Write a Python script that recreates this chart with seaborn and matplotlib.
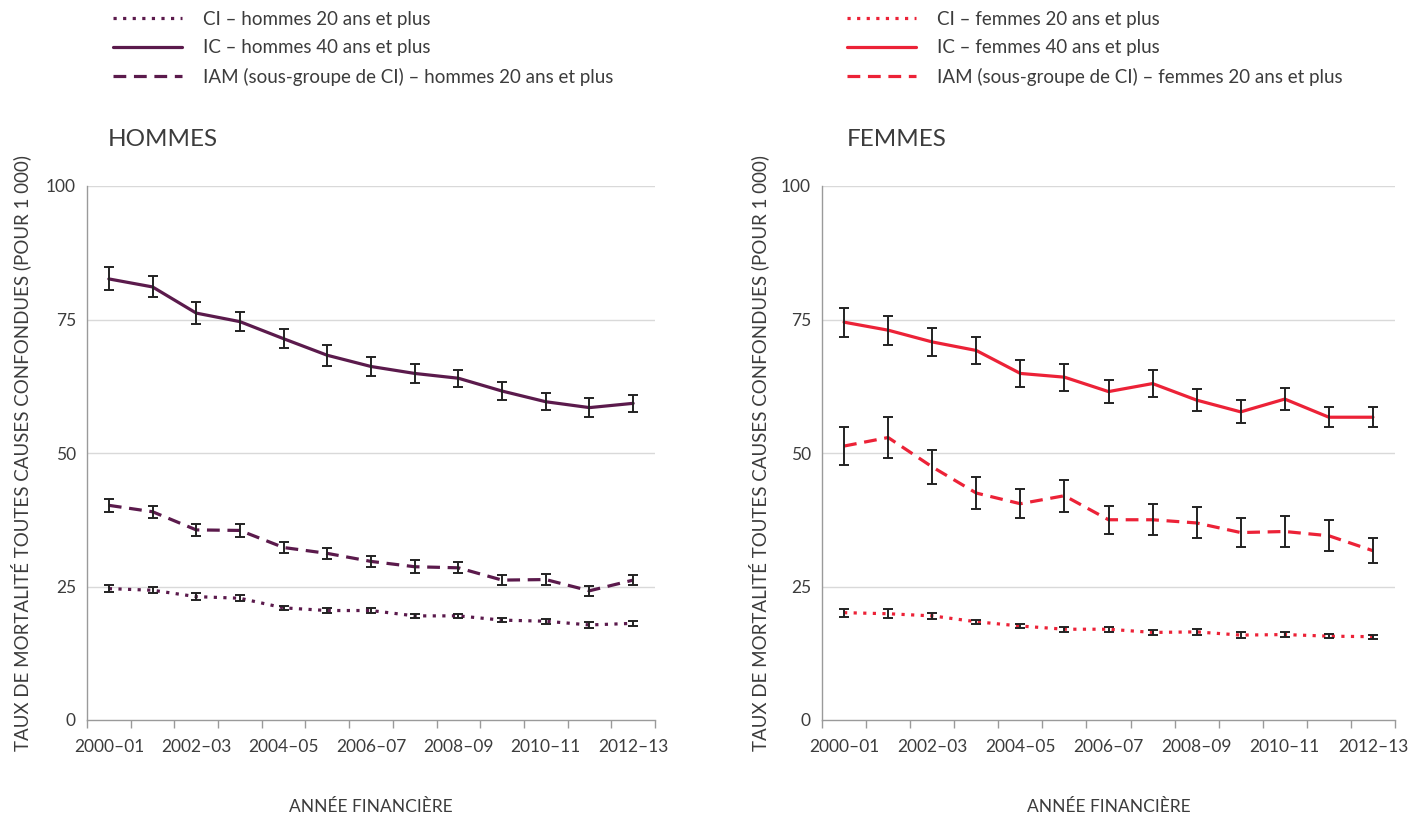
import numpy as np
import pandas as pd
import matplotlib
matplotlib.use("Agg")
import matplotlib.pyplot as plt
from matplotlib.lines import Line2D
import seaborn as sns

# Fiscal years (x categories) and labelled ticks
years = ["2000–01", "2001–02", "2002–03", "2003–04", "2004–05", "2005–06", "2006–07",
         "2007–08", "2008–09", "2009–10", "2010–11", "2011–12", "2012–13"]
tick_labels = ["2000–01", "2002–03", "2004–05", "2006–07", "2008–09", "2010–11", "2012–13"]

# Men: all-cause mortality rates (per 1,000) and 95% CI half-widths
men_ci = [24.6, 24.3, 23.1, 22.8, 21.0, 20.5, 20.5, 19.5, 19.5, 18.7, 18.5, 17.8, 18.1]
men_ci_err = [0.6, 0.6, 0.6, 0.6, 0.4, 0.5, 0.5, 0.4, 0.4, 0.4, 0.5, 0.5, 0.5]
men_ic = [82.6, 81.1, 76.2, 74.6, 71.4, 68.3, 66.2, 64.9, 64.0, 61.6, 59.6, 58.5, 59.3]
men_ic_err = [2.15, 1.97, 2.1, 1.8, 1.75, 1.93, 1.75, 1.78, 1.56, 1.72, 1.56, 1.78, 1.56]
men_iam = [40.2, 39.0, 35.6, 35.5, 32.3, 31.2, 29.7, 28.7, 28.5, 26.2, 26.3, 24.2, 26.2]
men_iam_err = [1.2, 1.1, 1.15, 1.15, 1.0, 1.05, 1.0, 1.25, 1.0, 1.0, 1.0, 0.9, 1.0]

# Women: all-cause mortality rates (per 1,000) and 95% CI half-widths
women_ci = [20.1, 19.9, 19.5, 18.4, 17.6, 17.0, 17.0, 16.4, 16.5, 15.9, 16.0, 15.7, 15.6]
women_ci_err = [0.75, 0.8, 0.6, 0.4, 0.4, 0.5, 0.5, 0.4, 0.5, 0.5, 0.4, 0.4, 0.4]
women_ic = [74.5, 73.0, 70.8, 69.2, 64.9, 64.2, 61.5, 63.0, 59.9, 57.7, 60.1, 56.7, 56.7]
women_ic_err = [2.7, 2.7, 2.7, 2.5, 2.5, 2.5, 2.1, 2.5, 2.1, 2.15, 2.1, 1.9, 1.9]
women_iam = [51.3, 52.9, 47.4, 42.5, 40.5, 42.0, 37.5, 37.5, 36.9, 35.1, 35.3, 34.5, 31.7]
women_iam_err = [3.6, 3.9, 3.25, 3.0, 2.7, 3.0, 2.65, 2.9, 2.9, 2.7, 2.9, 2.9, 2.3]

series_keys = ["CI", "IC", "IAM"]
men_labels = ["CI – hommes 20 ans et plus", "IC – hommes 40 ans et plus",
              "IAM (sous-groupe de CI) – hommes 20 ans et plus"]
women_labels = ["CI – femmes 20 ans et plus", "IC – femmes 40 ans et plus",
                "IAM (sous-groupe de CI) – femmes 20 ans et plus"]

MEN_COLOR = "#5b1a4c"
WOMEN_COLOR = "#ec2237"
TEXT = "#3c3c3c"
dash_map = {"CI": (1, 2), "IC": "", "IAM": (4, 2.4)}
mpl_ls = {"CI": (0, (1, 2)), "IC": "-", "IAM": (0, (4, 2.4))}

sns.set_theme(style="white")
plt.rcParams["font.family"] = ["Lato", "DejaVu Sans"]
plt.rcParams["text.color"] = TEXT
plt.rcParams["axes.labelcolor"] = TEXT

W, H = 1421, 817
fig = plt.figure(figsize=(W / 100, H / 100), dpi=100)


def fx(px):
    return px / W


def fy(py):
    return 1 - py / H


ax_m = fig.add_axes([fx(87), fy(720), fx(655 - 87), (720 - 186) / H])
ax_w = fig.add_axes([fx(822), fy(720), fx(1395 - 822), (720 - 186) / H])


def long_frame(vals_list):
    rows = []
    for key, vals in zip(series_keys, vals_list):
        for i, v in enumerate(vals):
            rows.append({"idx": i, "year": years[i], "serie": key, "taux": v})
    return pd.DataFrame(rows)


def draw_panel(ax, vals, errs, color, label_x):
    df = long_frame(vals)
    sns.lineplot(data=df, x="idx", y="taux", style="serie", dashes=dash_map,
                 color=color, linewidth=2.3, legend=False, ax=ax, zorder=2)
    x = np.arange(len(years))
    for v, e in zip(vals, errs):
        ax.errorbar(x, v, yerr=e, fmt="none", ecolor="#222222", elinewidth=1.4,
                    capsize=3.6, capthick=1.4, zorder=3)
    ax.set_xlim(-0.5, len(years) - 0.5)
    ax.set_ylim(0, 100)
    ax.set_yticks([0, 25, 50, 75, 100])
    ax.set_yticklabels(["0", "25", "50", "75", "100"])
    for gy in [25, 50, 75, 100]:
        ax.axhline(gy, color="#d9d9d9", linewidth=1.0, zorder=1)
    # boundary ticks between fiscal years, labels under every other year
    ax.set_xticks(np.arange(-0.5, len(years), 1.0))
    ax.set_xticklabels([])
    ax.set_xticks(np.arange(0, len(years), 2), minor=True)
    ax.set_xticklabels(tick_labels, minor=True)
    ax.tick_params(axis="x", which="major", direction="out", length=6, width=1,
                   color="#9a9a9a", bottom=True)
    ax.tick_params(axis="x", which="minor", length=0, pad=14, labelsize=12.5,
                   labelcolor=TEXT)
    ax.tick_params(axis="y", length=0, pad=8, labelsize=12.5, labelcolor=TEXT)
    for s in ["top", "right"]:
        ax.spines[s].set_visible(False)
    for s in ["left", "bottom"]:
        ax.spines[s].set_color("#9a9a9a")
        ax.spines[s].set_linewidth(1.0)
    ax.set_xlabel("ANNÉE FINANCIÈRE", fontsize=12.5, labelpad=31, color=TEXT)
    ax.set_ylabel("TAUX DE MORTALITÉ TOUTES CAUSES CONFONDUES (POUR 1 000)",
                  fontsize=13.5, color=TEXT)
    ax.yaxis.set_label_coords(label_x, 0.5)


draw_panel(ax_m, [men_ci, men_ic, men_iam], [men_ci_err, men_ic_err, men_iam_err],
           MEN_COLOR, -0.099)
draw_panel(ax_w, [women_ci, women_ic, women_iam],
           [women_ci_err, women_ic_err, women_iam_err], WOMEN_COLOR, -0.093)

fig.text(fx(108), fy(140), "HOMMES", fontsize=17.5, color=TEXT, va="center", ha="left")
fig.text(fx(847), fy(140), "FEMMES", fontsize=17.5, color=TEXT, va="center", ha="left")


def legend_handles(color):
    return [Line2D([0], [0], color=color, linewidth=2.3, linestyle=mpl_ls[k])
            for k in series_keys]


leg_kw = dict(frameon=False, loc="upper left", fontsize=13.5, handlelength=3.7,
              handletextpad=1.1, labelspacing=0.6, borderaxespad=0, borderpad=0,
              labelcolor=TEXT)
fig.legend(legend_handles(MEN_COLOR), men_labels,
           bbox_to_anchor=(fx(113), fy(11)), **leg_kw)
fig.legend(legend_handles(WOMEN_COLOR), women_labels,
           bbox_to_anchor=(fx(847), fy(11)), **leg_kw)

fig.savefig("out.png", dpi=100)
